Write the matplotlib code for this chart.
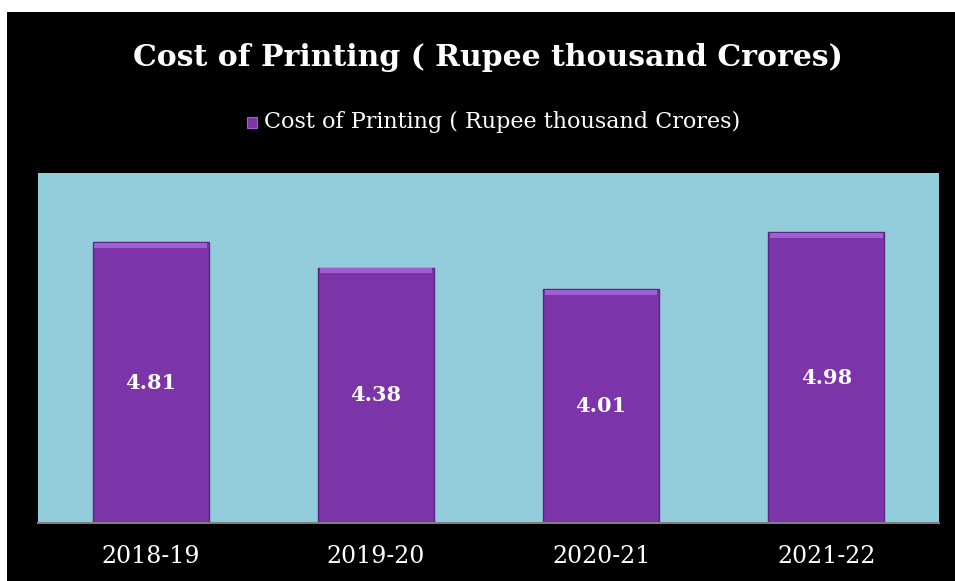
import matplotlib
matplotlib.use("Agg")
import matplotlib.pyplot as plt
from matplotlib.patches import Rectangle

# data
years = ["2018-19", "2019-20", "2020-21", "2021-22"]
cost = [4.81, 4.38, 4.01, 4.98]
series_name = "Cost of Printing ( Rupee thousand Crores)"

BAR = "#7b35a8"
BAR_TOP = "#9f5fd0"
BAR_EDGE = "#5a2680"
PLOT_BG = "#93cddc"
FONT = "DejaVu Serif"

fig = plt.figure(figsize=(9.55, 5.81), dpi=100)
fig.patch.set_facecolor("black")
# thin white margin along the top and left edge, as in the reference
fig.patches.append(Rectangle((0, 1 - 12 / 581), 1, 12 / 581, transform=fig.transFigure,
                             facecolor="white", edgecolor="none", zorder=-5))
fig.patches.append(Rectangle((0, 0), 7 / 955, 1, transform=fig.transFigure,
                             facecolor="white", edgecolor="none", zorder=-5))

ax = fig.add_axes([38 / 955, 58 / 581, 901 / 955, 350 / 581])
ax.set_facecolor(PLOT_BG)
x = range(len(years))
ax.bar(x, cost, width=0.515, color=BAR, edgecolor=BAR_EDGE, linewidth=1.0, zorder=2)
# lighter bevel strip along the top of each bar
ax.bar(x, [0.09] * len(cost), bottom=[c - 0.1 for c in cost], width=0.5,
       color=BAR_TOP, edgecolor="none", zorder=3)

for i, c in enumerate(cost):
    ax.text(i, c / 2, "%.2f" % c, ha="center", va="center", color="white",
            fontsize=15, fontweight="bold", family=FONT, zorder=4)

ax.set_xlim(-0.5, 3.5)
ax.set_ylim(0, 6)
ax.set_yticks([])
ax.set_xticks(list(x))
ax.set_xticklabels(years, family=FONT, fontsize=17, color="white")
ax.tick_params(axis="x", length=0, pad=16)
for s in ("top", "left", "right"):
    ax.spines[s].set_visible(False)
ax.spines["bottom"].set_color("#7f7f7f")
ax.spines["bottom"].set_linewidth(1.5)

fig.text(487.5 / 955, 1 - 57 / 581, series_name, ha="center", va="center", color="white",
         fontsize=21.5, fontweight="bold", family=FONT)
# legend: small purple square + label
fig.patches.append(Rectangle((247 / 955, 1 - 128 / 581), 10 / 955, 11 / 581,
                             transform=fig.transFigure, facecolor=BAR,
                             edgecolor=BAR_TOP, linewidth=0.8))
fig.text(264 / 955, 1 - 122 / 581, series_name, ha="left", va="center",
         color="white", fontsize=16, family=FONT)

fig.savefig("out.png", dpi=100, facecolor=fig.get_facecolor())
